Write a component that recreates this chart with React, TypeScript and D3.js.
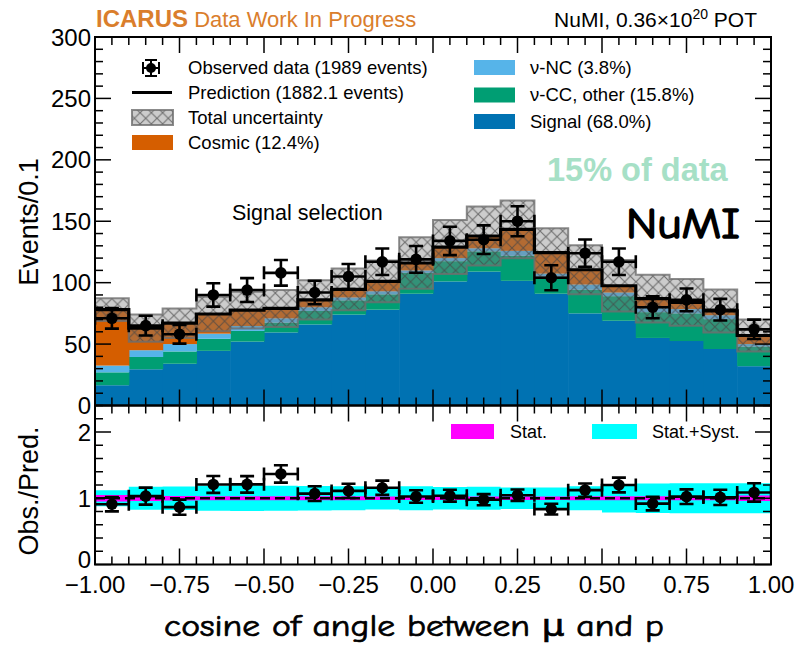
import React from 'react';
import * as d3 from 'd3';

// ---------- data ----------
const binLow = [-1.0, -0.9, -0.8, -0.7, -0.6, -0.5, -0.4, -0.3, -0.2, -0.1, 0.0, 0.1, 0.2, 0.3, 0.4, 0.5, 0.6, 0.7, 0.8, 0.9];
const binWidth = 0.1;
const observed = [71, 65, 58, 90, 94, 108, 92, 105, 117, 119, 134, 135, 150, 104, 124, 117, 80, 86, 78, 62];
const signal = [16.5, 29.5, 34, 44.5, 52, 59.5, 66, 74, 78, 91, 101, 109, 101.5, 91, 75, 69, 55, 52.5, 46, 32];
const ccOther = [10.5, 10, 10, 9.8, 8.7, 8, 11, 11.6, 12.5, 17, 16.5, 16.5, 20.4, 12.9, 19.3, 20, 21, 22.5, 24.3, 16];
const ncEvents = [5.5, 5.5, 6, 4.2, 4, 3.5, 3, 2.4, 2.5, 2, 2.5, 2.5, 4, 3.5, 4.2, 3, 3.5, 3.5, 3.2, 2];
const cosmic = [45.5, 18, 17, 16, 13, 8, 6, 6.5, 8, 6, 9, 10, 17.5, 17, 12, 5.5, 7.5, 5.5, 3.5, 7];
const totalUnc = [9.3, 11, 12, 14, 15, 15, 16, 17, 17, 21, 22, 24, 23.5, 20, 20, 21, 19.5, 19, 17.5, 13];
const statRel = [0.05, 0.04, 0.035, 0.03, 0.03, 0.03, 0.03, 0.03, 0.025, 0.025, 0.025, 0.025, 0.025, 0.025, 0.03, 0.03, 0.03, 0.03, 0.03, 0.04];

const mainYTicks = [0, 50, 100, 150, 200, 250, 300];
const ratioYTicks = [0, 1, 2];
const xTicks = [-1, -0.75, -0.5, -0.25, 0, 0.25, 0.5, 0.75, 1];
const xTickLabels = ['\u22121.00', '\u22120.75', '\u22120.50', '\u22120.25', '0.00', '0.25', '0.50', '0.75', '1.00'];

const seriesKeys = ['signal', 'cc', 'nc', 'cosmic'];
const seriesColors: Record<string, string> = { signal: '#0072B2', cc: '#009E73', nc: '#56B4E9', cosmic: '#D55E00' };

const legendLeft = ['Observed data (1989 events)', 'Prediction (1882.1 events)', 'Total uncertainty', 'Cosmic (12.4%)'];
const legendRight = ['\u03bd-NC (3.8%)', '\u03bd-CC, other (15.8%)', 'Signal (68.0%)'];

// ---------- layout ----------
const W = 795, H = 647;
const X0 = 95, X1 = 771, YT = 37, YM = 405.5, YB = 564.5;
const FONT = '"Liberation Sans", Arial, Helvetica, sans-serif';
const COMIC = '"Comic Sans MS", "Comic Neue", "DejaVu Sans", sans-serif';

export default function App() {
  const x = d3.scaleLinear().domain([-1, 1]).range([X0, X1]);
  const y = d3.scaleLinear().domain([0, 300]).range([YM, YT]);
  const yr = d3.scaleLinear().domain([0, 2.4]).range([YB, YM]);

  const rows = binLow.map((b, i) => ({ signal: signal[i], cc: ccOther[i], nc: ncEvents[i], cosmic: cosmic[i] }));
  const stacked = d3.stack<any>().keys(seriesKeys)(rows);
  const pred = rows.map(r => r.signal + r.cc + r.nc + r.cosmic);

  const stepPts = (vals: number[]) => [...binLow.map((b, i) => ({ x: b, v: vals[i], i })), { x: 1, v: vals[vals.length - 1], i: vals.length - 1 }];

  const band = d3.area<any>().x(d => x(d.x)).y0(d => y(pred[d.i] - totalUnc[d.i])).y1(d => y(pred[d.i] + totalUnc[d.i])).curve(d3.curveStepAfter);
  const predLine = d3.line<any>().x(d => x(d.x)).y(d => y(d.v)).curve(d3.curveStepAfter);
  const ptsPred = stepPts(pred);

  const rBandSys = d3.area<any>().x(d => x(d.x)).y0(d => yr(1 - totalUnc[d.i] / pred[d.i])).y1(d => yr(1 + totalUnc[d.i] / pred[d.i])).curve(d3.curveStepAfter);
  const rBandStat = d3.area<any>().x(d => x(d.x)).y0(d => yr(1 - statRel[d.i])).y1(d => yr(1 + statRel[d.i])).curve(d3.curveStepAfter);

  const minorX = d3.range(0, 41).map(k => -1 + k * 0.05);
  const isMajorX = (v: number) => Math.abs(v / 0.25 - Math.round(v / 0.25)) < 1e-6;
  const minorY = d3.range(0, 31).map(k => k * 10);
  const minorR = d3.range(0, 13).map(k => k * 0.2);

  const tickStroke = { stroke: '#000', strokeWidth: 1.5 };
  const MAJ = 16, MIN = 8;

  const errBar = (cx: number, cy: number, yLo: number, yHi: number, xL: number, xR: number, key: string) => (
    <g key={key} stroke="#000" strokeWidth={2.6} fill="none">
      <line x1={cx} x2={cx} y1={yLo} y2={yHi} />
      <line x1={cx - 7} x2={cx + 7} y1={yLo} y2={yLo} />
      <line x1={cx - 7} x2={cx + 7} y1={yHi} y2={yHi} />
      <line x1={xL} x2={xR} y1={cy} y2={cy} />
      <line x1={xL} x2={xL} y1={cy - 6.5} y2={cy + 6.5} />
      <line x1={xR} x2={xR} y1={cy - 6.5} y2={cy + 6.5} />
      <circle cx={cx} cy={cy} r={5.8} fill="#000" stroke="none" />
    </g>
  );

  return (
    <svg width={W} height={H} style={{ position: 'absolute', left: 0, top: 0, background: '#fff' }} fontFamily={FONT}>
      <defs>
        <pattern id="xhatch" patternUnits="userSpaceOnUse" width={11.27} height={11.27} x={X0} y={0}>
          <path d="M0,0 L11.27,11.27 M0,11.27 L11.27,0" stroke="rgba(70,70,70,0.7)" strokeWidth={1.1} />
        </pattern>
        <clipPath id="mainClip"><rect x={X0} y={YT} width={X1 - X0} height={YM - YT} /></clipPath>
        <clipPath id="ratioClip"><rect x={X0} y={YM} width={X1 - X0} height={YB - YM} /></clipPath>
      </defs>
      <rect x={0} y={0} width={W} height={H} fill="#fff" />

      {/* header */}
      <text x={96} y={27} fill="#DA7E2C" fontSize={22}>
        <tspan fontWeight="bold" fontSize={24}>ICARUS</tspan> Data Work In Progress
      </text>
      <text x={757} y={27} fill="#000" fontSize={21} textAnchor="end">
        NuMI, 0.36×10<tspan dy={-8} fontSize={14}>20</tspan><tspan dy={8}> POT</tspan>
      </text>

      {/* main panel */}
      <g clipPath="url(#mainClip)">
        {stacked.map(s => (
          <g key={s.key} fill={seriesColors[s.key as string]}>
            {s.map((d, i) => (
              <rect key={i} x={x(binLow[i])} width={x(binLow[i] + binWidth) - x(binLow[i]) + 0.6} y={y(d[1])} height={y(d[0]) - y(d[1])} />
            ))}
          </g>
        ))}
        <path d={band(ptsPred) || ''} fill="rgba(128,128,128,0.4)" stroke="none" />
        <path d={band(ptsPred) || ''} fill="url(#xhatch)" stroke="rgba(110,110,110,0.8)" strokeWidth={2} />
        <path d={predLine(ptsPred) || ''} fill="none" stroke="#000" strokeWidth={3.2} />
        {observed.map((n, i) => {
          const e = Math.sqrt(n);
          const cx = x(binLow[i] + binWidth / 2);
          return errBar(cx, y(n), y(n - e), y(n + e), x(binLow[i]), x(binLow[i] + binWidth), 'm' + i);
        })}
      </g>

      {/* texts in main panel */}
      <text x={232} y={220} fontSize={21.5}>Signal selection</text>
      <text x={547} y={181} fontSize={32.5} fontWeight="bold" fill="#A6E0C6">15% of data</text>
      <text x={626} y={238} fontSize={43} fontFamily={COMIC} stroke="#000" strokeWidth={1.6} textLength={114} lengthAdjust="spacingAndGlyphs">NuMI</text>

      {/* main legend */}
      <g fontSize={18.5}>
        <g stroke="#000" strokeWidth={2} fill="none">
          <line x1={151} x2={151} y1={60} y2={76} />
          <line x1={145} x2={157} y1={60} y2={60} />
          <line x1={145} x2={157} y1={76} y2={76} />
          <line x1={143} x2={159} y1={68} y2={68} />
          <line x1={143} x2={143} y1={62} y2={74} />
          <line x1={159} x2={159} y1={62} y2={74} />
          <circle cx={151} cy={68} r={5} fill="#000" stroke="none" />
        </g>
        <text x={188} y={68} dy="0.35em">{legendLeft[0]}</text>
        <line x1={132} x2={172} y1={92.5} y2={92.5} stroke="#000" strokeWidth={3} />
        <text x={188} y={92.5} dy="0.35em">{legendLeft[1]}</text>
        <rect x={132} y={110} width={41} height={15} fill="rgba(128,128,128,0.4)" />
        <rect x={132} y={110} width={41} height={15} fill="url(#xhatch)" stroke="rgba(110,110,110,0.8)" strokeWidth={2} />
        <text x={188} y={117.5} dy="0.35em">{legendLeft[2]}</text>
        <rect x={132} y={135} width={41} height={15} fill={seriesColors.cosmic} />
        <text x={188} y={142.5} dy="0.35em">{legendLeft[3]}</text>

        <rect x={474} y={60} width={41} height={15} fill={seriesColors.nc} />
        <text x={530} y={67.5} dy="0.35em">{legendRight[0]}</text>
        <rect x={474} y={87.5} width={41} height={15} fill={seriesColors.cc} />
        <text x={530} y={95} dy="0.35em">{legendRight[1]}</text>
        <rect x={474} y={114} width={41} height={15} fill={seriesColors.signal} />
        <text x={530} y={121.5} dy="0.35em">{legendRight[2]}</text>
      </g>

      {/* ratio panel */}
      <g clipPath="url(#ratioClip)">
        <path d={rBandSys(ptsPred) || ''} fill="#00FFFF" />
        <path d={rBandStat(ptsPred) || ''} fill="#FF00FF" />
        <line x1={X0} x2={X1} y1={yr(1)} y2={yr(1)} stroke="#000" strokeWidth={2.5} strokeDasharray="10,5" />
        {observed.map((n, i) => {
          const e = Math.sqrt(n) / pred[i];
          const r = n / pred[i];
          const cx = x(binLow[i] + binWidth / 2);
          return errBar(cx, yr(r), yr(r - e), yr(r + e), x(binLow[i]), x(binLow[i] + binWidth), 'r' + i);
        })}
      </g>
      <g fontSize={18}>
        <rect x={451} y={424} width={43} height={15} fill="#FF00FF" />
        <text x={510} y={431.5} dy="0.35em">Stat.</text>
        <rect x={592} y={424} width={45} height={15} fill="#00FFFF" />
        <text x={652} y={431.5} dy="0.35em">Stat.+Syst.</text>
      </g>

      {/* ticks */}
      <g {...tickStroke}>
        {minorX.map((v, k) => {
          const L = isMajorX(v) ? MAJ : MIN;
          const xx = x(v);
          return (
            <g key={'tx' + k}>
              <line x1={xx} x2={xx} y1={YT} y2={YT + L} />
              <line x1={xx} x2={xx} y1={YM} y2={YM - L} />
              <line x1={xx} x2={xx} y1={YM} y2={YM + L} />
              <line x1={xx} x2={xx} y1={YB} y2={YB - L} />
            </g>
          );
        })}
        {minorY.map((v, k) => {
          const L = v % 50 === 0 ? MAJ : MIN;
          const yy = y(v);
          return (
            <g key={'ty' + k}>
              <line x1={X0} x2={X0 + L} y1={yy} y2={yy} />
              <line x1={X1} x2={X1 - L} y1={yy} y2={yy} />
            </g>
          );
        })}
        {minorR.map((v, k) => {
          const L = Math.abs(v - Math.round(v)) < 1e-6 ? MAJ : MIN;
          const yy = yr(v);
          return (
            <g key={'tr' + k}>
              <line x1={X0} x2={X0 + L} y1={yy} y2={yy} />
              <line x1={X1} x2={X1 - L} y1={yy} y2={yy} />
            </g>
          );
        })}
      </g>

      {/* frames */}
      <rect x={X0} y={YT} width={X1 - X0} height={YM - YT} fill="none" stroke="#000" strokeWidth={2} />
      <rect x={X0} y={YM} width={X1 - X0} height={YB - YM} fill="none" stroke="#000" strokeWidth={2} />

      {/* tick labels */}
      <g fontSize={24}>
        {mainYTicks.map(v => (
          <text key={'ly' + v} x={91} y={y(v)} dy="0.36em" textAnchor="end">{v}</text>
        ))}
        {ratioYTicks.map(v => (
          <text key={'lr' + v} x={91} y={yr(v) - (v === 0 ? 5 : 0)} dy="0.36em" textAnchor="end">{v}</text>
        ))}
        {xTicks.map((v, k) => (
          <text key={'lx' + k} x={x(v)} y={593} textAnchor="middle">{xTickLabels[k]}</text>
        ))}
      </g>

      {/* axis titles */}
      <text transform="translate(38,222) rotate(-90)" textAnchor="middle" fontSize={27}>Events/0.1</text>
      <text transform="translate(38,491) rotate(-90)" textAnchor="middle" fontSize={27}>Obs./Pred.</text>
      <text x={414} y={636} textAnchor="middle" fontSize={30} fontFamily={COMIC} stroke="#000" strokeWidth={0.7} textLength={500} lengthAdjust="spacingAndGlyphs">cosine of angle between μ and p</text>
    </svg>
  );
}
